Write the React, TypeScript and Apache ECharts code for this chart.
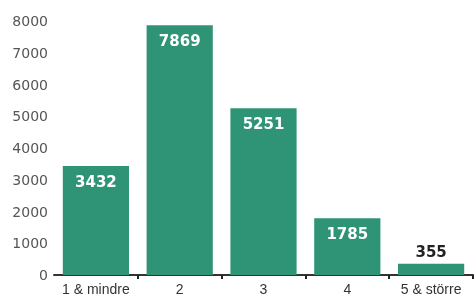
import React, { useEffect, useRef } from "react";
import * as echarts from "echarts";

const categories = ["1 & mindre", "2", "3", "4", "5 & större"];
const values = [3432, 7869, 5251, 1785, 355];
const insideLabel = [true, true, true, true, false];

export default function App() {
  const ref = useRef<HTMLDivElement>(null);
  useEffect(() => {
    if (!ref.current) return;
    const chart = echarts.init(ref.current, undefined, { renderer: "svg" });
    const valueFont = {
      fontSize: 15,
      fontWeight: "bold",
      fontFamily: "DejaVu Sans, sans-serif",
    };
    chart.setOption({
      animation: false,
      grid: { left: 54, right: 2, top: 21, bottom: 25 },
      xAxis: {
        type: "category",
        data: categories,
        axisLine: { lineStyle: { color: "#333", width: 2 } },
        axisTick: {
          show: true,
          length: 4,
          inside: false,
          interval: (i: number) => i > 0,
          lineStyle: { color: "#222", width: 2 },
        },
        axisLabel: {
          color: "#333",
          fontSize: 14,
          interval: 0,
          fontFamily: "Liberation Sans, sans-serif",
          margin: 7,
        },
      },
      yAxis: {
        type: "value",
        min: 0,
        max: 8000,
        interval: 1000,
        axisLine: { show: false },
        axisTick: { show: false },
        splitLine: { show: false },
        axisLabel: {
          color: "#555",
          fontSize: 14,
          fontFamily: "DejaVu Sans, sans-serif",
          margin: 6,
          formatter: (v: number) => String(v),
        },
      },
      series: [
        {
          type: "bar",
          barWidth: "79%",
          data: values.map((v, i) => ({
            value: v,
            label: insideLabel[i]
              ? { show: true, position: "insideTop", distance: 8, color: "#fff", ...valueFont }
              : { show: true, position: "top", distance: 4, color: "#222", ...valueFont },
          })),
          itemStyle: { color: "#2f9475" },
        },
      ],
    });
    return () => chart.dispose();
  }, []);
  return <div ref={ref} style={{ width: 475, height: 300, position: "fixed", left: 0, top: 0 }} />;
}
